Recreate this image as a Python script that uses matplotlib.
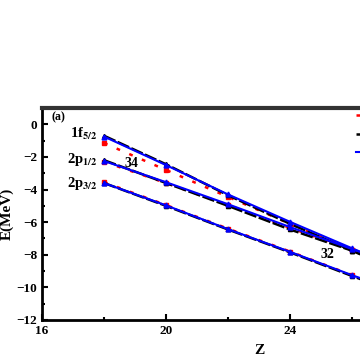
import matplotlib
matplotlib.use("Agg")
import matplotlib.pyplot as plt
from matplotlib.ticker import MultipleLocator, FixedLocator

Z = [18, 20, 22, 24, 26, 28]
f52_red = [-1.15, -2.8, -4.45, -6.1, -7.7, -9.3]
f52_black = [-0.7, -2.45, -4.35, -6.1, -7.75, -9.4]
f52_blue = [-0.75, -2.5, -4.3, -5.98, -7.6, -9.2]
p12_red = [-2.3, -3.6, -4.95, -6.35, -7.7, -9.05]
p12_black = [-2.2, -3.6, -5.0, -6.45, -7.75, -9.1]
p12_blue = [-2.25, -3.55, -4.9, -6.3, -7.65, -9.0]
p32_red = [-3.55, -4.95, -6.4, -7.8, -9.25, -10.6]
p32_black = [-3.6, -5.0, -6.45, -7.85, -9.3, -10.7]
p32_blue = [-3.6, -4.97, -6.43, -7.82, -9.25, -10.6]
x_ticks = [16, 20, 24]

plt.rcParams['font.family'] = ['Liberation Serif', 'DejaVu Serif']
plt.rcParams['font.weight'] = 'bold'
plt.rcParams['mathtext.fontset'] = 'stix'

fig = plt.figure(figsize=(3.6, 3.6), dpi=100)
ax = fig.add_axes([42/360, 1-320/360, 434/360, 212/360])

handles = []
for red, black, blue in [(f52_red, f52_black, f52_blue),
                         (p12_red, p12_black, p12_blue),
                         (p32_red, p32_black, p32_blue)]:
    h1, = ax.plot(Z, red, color='red', ls=(0, (1.5, 4)), lw=1.8, marker='s', ms=3.5)
    h2, = ax.plot(Z, black, color='black', ls=(0, (5, 1)), lw=1.8, marker='^', ms=3)
    h3, = ax.plot(Z, blue, color='blue', ls='-', lw=1.5, marker='^', ms=3.5)
    handles = [h1, h2, h3]

ax.set_xlim(16, 30)
ax.set_ylim(-12, 1)
ax.xaxis.set_major_locator(FixedLocator(x_ticks))
ax.xaxis.set_minor_locator(MultipleLocator(2))
ax.yaxis.set_major_locator(MultipleLocator(2))
ax.yaxis.set_minor_locator(MultipleLocator(1))
ax.tick_params(which='both', direction='in', width=1.5, labelsize=9.5)
ax.tick_params(which='major', length=4)
ax.tick_params(which='minor', length=2.5)
for s in ax.spines.values():
    s.set_linewidth(2)
ax.spines['top'].set_color('#333333')
ax.spines['top'].set_linewidth(3)
for lab in ax.get_xticklabels() + ax.get_yticklabels():
    lab.set_fontweight('bold')

ax.set_xlabel('Z', fontsize=11, fontweight='bold', labelpad=5)
ax.set_ylabel('E(MeV)', fontsize=11, fontweight='bold', labelpad=2)

ax.text(16.3, 0.45, '(a)', fontsize=8.5, fontweight='bold', va='center')
ax.text(17.8, -0.6, r'1f$_{\mathbf{5/2}}$', fontsize=10.5, fontweight='bold', ha='right', va='center')
ax.text(17.8, -2.15, r'2p$_{\mathbf{1/2}}$', fontsize=10.5, fontweight='bold', ha='right', va='center')
ax.text(17.8, -3.6, r'2p$_{\mathbf{3/2}}$', fontsize=10.5, fontweight='bold', ha='right', va='center')
ax.text(18.9, -2.4, '34', fontsize=10, fontweight='bold', ha='center', va='center')
ax.text(25.2, -8.0, '32', fontsize=10, fontweight='bold', ha='center', va='center')

ax.legend(handles, ['', '', ''], loc='upper left', bbox_to_anchor=(0.695, 1.05),
          frameon=False, handlelength=2.0, fontsize=10, labelspacing=0.4, markerscale=0)

fig.savefig('out.png', dpi=100)
